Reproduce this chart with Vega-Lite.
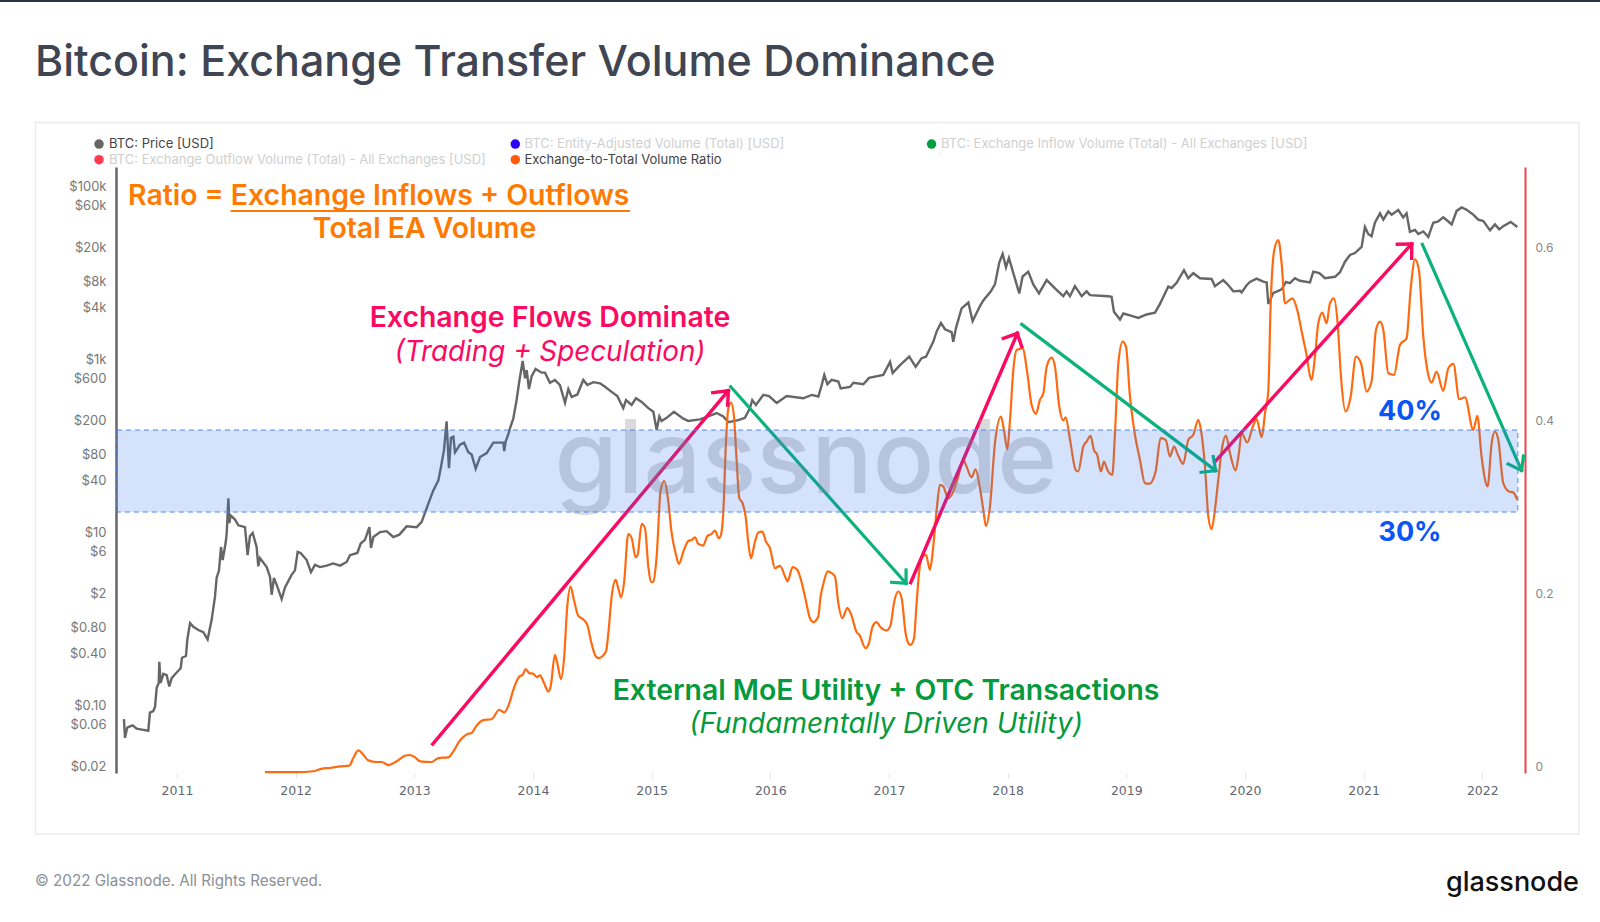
{
  "$schema": "https://vega.github.io/schema/vega-lite/v6.json",
  "width": 1409,
  "height": 606,
  "autosize": {"type": "none"},
  "padding": {"left": 116, "top": 167, "right": 75, "bottom": 149},
  "background": "white",
  "config": {"view": {"stroke": null}, "font": "Inter"},
  "datasets": {
    "price": [
      {"year":2010.553,"price":0.084},{"year":2010.562,"price":0.051},{"year":2010.581,"price":0.067},{"year":2010.604,"price":0.069},{"year":2010.626,"price":0.071},{"year":2010.66,"price":0.065},{"year":2010.716,"price":0.063},{"year":2010.758,"price":0.0615},{"year":2010.772,"price":0.1},{"year":2010.8,"price":0.104},{"year":2010.815,"price":0.116},{"year":2010.829,"price":0.193},{"year":2010.846,"price":0.22},{"year":2010.851,"price":0.385},{"year":2010.862,"price":0.22},{"year":2010.885,"price":0.28},{"year":2010.913,"price":0.27},{"year":2010.935,"price":0.2},{"year":2010.955,"price":0.25},{"year":2010.997,"price":0.29},{"year":2011.031,"price":0.325},{"year":2011.042,"price":0.43},{"year":2011.076,"price":0.45},{"year":2011.087,"price":0.7},{"year":2011.11,"price":1.08},{"year":2011.138,"price":0.98},{"year":2011.18,"price":0.9},{"year":2011.222,"price":0.85},{"year":2011.258,"price":0.7},{"year":2011.292,"price":1.18},{"year":2011.32,"price":2.17},{"year":2011.334,"price":3.6},{"year":2011.354,"price":4.4},{"year":2011.371,"price":8.2},{"year":2011.385,"price":5.8},{"year":2011.41,"price":9.1},{"year":2011.419,"price":11.9},{"year":2011.433,"price":30},{"year":2011.441,"price":15.5},{"year":2011.452,"price":19},{"year":2011.489,"price":17},{"year":2011.517,"price":14.6},{"year":2011.573,"price":13.9},{"year":2011.595,"price":6.6},{"year":2011.615,"price":11},{"year":2011.638,"price":11.9},{"year":2011.671,"price":8.2},{"year":2011.685,"price":4.9},{"year":2011.699,"price":6.1},{"year":2011.756,"price":4.8},{"year":2011.784,"price":3.7},{"year":2011.798,"price":2.3},{"year":2011.817,"price":3.6},{"year":2011.848,"price":2.8},{"year":2011.882,"price":2.05},{"year":2011.91,"price":2.8},{"year":2011.966,"price":3.9},{"year":2011.994,"price":4.4},{"year":2012.017,"price":7.2},{"year":2012.042,"price":7},{"year":2012.093,"price":5.8},{"year":2012.129,"price":4.2},{"year":2012.163,"price":5.1},{"year":2012.205,"price":4.8},{"year":2012.261,"price":5},{"year":2012.317,"price":5.3},{"year":2012.374,"price":5},{"year":2012.43,"price":5.5},{"year":2012.458,"price":6.6},{"year":2012.52,"price":7},{"year":2012.548,"price":9},{"year":2012.584,"price":9.9},{"year":2012.621,"price":13.9},{"year":2012.635,"price":8},{"year":2012.655,"price":10.7},{"year":2012.711,"price":12.2},{"year":2012.767,"price":12.5},{"year":2012.823,"price":10.7},{"year":2012.874,"price":11.4},{"year":2012.935,"price":14.2},{"year":2013.02,"price":13.9},{"year":2013.062,"price":16},{"year":2013.118,"price":26},{"year":2013.16,"price":37},{"year":2013.202,"price":48},{"year":2013.222,"price":66},{"year":2013.25,"price":108},{"year":2013.272,"price":233},{"year":2013.284,"price":108},{"year":2013.292,"price":67},{"year":2013.309,"price":150},{"year":2013.329,"price":154},{"year":2013.343,"price":102},{"year":2013.385,"price":125},{"year":2013.419,"price":132},{"year":2013.455,"price":102},{"year":2013.483,"price":96},{"year":2013.517,"price":66},{"year":2013.554,"price":90},{"year":2013.61,"price":100},{"year":2013.666,"price":132},{"year":2013.75,"price":132},{"year":2013.758,"price":105},{"year":2013.769,"price":135},{"year":2013.792,"price":165},{"year":2013.806,"price":193},{"year":2013.834,"price":250},{"year":2013.862,"price":410},{"year":2013.885,"price":680},{"year":2013.913,"price":1160},{"year":2013.933,"price":730},{"year":2013.947,"price":910},{"year":2013.966,"price":550},{"year":2013.989,"price":775},{"year":2014.022,"price":940},{"year":2014.073,"price":850},{"year":2014.101,"price":850},{"year":2014.143,"price":650},{"year":2014.185,"price":700},{"year":2014.227,"price":610},{"year":2014.27,"price":380},{"year":2014.298,"price":550},{"year":2014.326,"price":445},{"year":2014.374,"price":475},{"year":2014.424,"price":700},{"year":2014.458,"price":610},{"year":2014.508,"price":660},{"year":2014.565,"price":640},{"year":2014.607,"price":585},{"year":2014.663,"price":510},{"year":2014.711,"price":455},{"year":2014.761,"price":330},{"year":2014.784,"price":410},{"year":2014.831,"price":360},{"year":2014.868,"price":430},{"year":2014.916,"price":390},{"year":2014.972,"price":330},{"year":2015.014,"price":300},{"year":2015.042,"price":185},{"year":2015.065,"price":265},{"year":2015.084,"price":235},{"year":2015.126,"price":255},{"year":2015.188,"price":300},{"year":2015.267,"price":250},{"year":2015.309,"price":235},{"year":2015.407,"price":245},{"year":2015.477,"price":265},{"year":2015.548,"price":290},{"year":2015.604,"price":265},{"year":2015.646,"price":228},{"year":2015.73,"price":240},{"year":2015.786,"price":255},{"year":2015.828,"price":330},{"year":2015.848,"price":410},{"year":2015.879,"price":360},{"year":2015.941,"price":470},{"year":2015.989,"price":455},{"year":2016.054,"price":380},{"year":2016.138,"price":455},{"year":2016.278,"price":430},{"year":2016.349,"price":470},{"year":2016.405,"price":450},{"year":2016.433,"price":610},{"year":2016.455,"price":800},{"year":2016.481,"price":625},{"year":2016.517,"price":700},{"year":2016.573,"price":670},{"year":2016.593,"price":560},{"year":2016.671,"price":580},{"year":2016.7,"price":650},{"year":2016.784,"price":625},{"year":2016.832,"price":740},{"year":2016.952,"price":800},{"year":2017.009,"price":1130},{"year":2017.031,"price":840},{"year":2017.093,"price":1040},{"year":2017.171,"price":1300},{"year":2017.225,"price":990},{"year":2017.275,"price":1250},{"year":2017.312,"price":1300},{"year":2017.374,"price":1940},{"year":2017.402,"price":2550},{"year":2017.438,"price":3200},{"year":2017.472,"price":2700},{"year":2017.528,"price":2500},{"year":2017.542,"price":1930},{"year":2017.565,"price":2800},{"year":2017.612,"price":4700},{"year":2017.669,"price":5500},{"year":2017.705,"price":3350},{"year":2017.767,"price":5000},{"year":2017.795,"price":5800},{"year":2017.857,"price":7350},{"year":2017.893,"price":8900},{"year":2017.93,"price":16000},{"year":2017.958,"price":20000},{"year":2017.986,"price":14000},{"year":2018.011,"price":18000},{"year":2018.048,"price":12000},{"year":2018.098,"price":7000},{"year":2018.126,"price":11000},{"year":2018.174,"price":12500},{"year":2018.216,"price":8900},{"year":2018.264,"price":7000},{"year":2018.329,"price":10000},{"year":2018.399,"price":8000},{"year":2018.469,"price":6500},{"year":2018.497,"price":7400},{"year":2018.525,"price":6500},{"year":2018.567,"price":8500},{"year":2018.624,"price":6500},{"year":2018.666,"price":7400},{"year":2018.694,"price":6700},{"year":2018.848,"price":6500},{"year":2018.876,"price":6400},{"year":2018.896,"price":4300},{"year":2018.947,"price":3500},{"year":2018.975,"price":4100},{"year":2019.031,"price":3900},{"year":2019.101,"price":3650},{"year":2019.171,"price":4000},{"year":2019.242,"price":4200},{"year":2019.284,"price":5300},{"year":2019.354,"price":8400},{"year":2019.382,"price":8100},{"year":2019.424,"price":9300},{"year":2019.486,"price":13000},{"year":2019.522,"price":10500},{"year":2019.565,"price":12000},{"year":2019.621,"price":10500},{"year":2019.719,"price":10300},{"year":2019.747,"price":8500},{"year":2019.817,"price":10000},{"year":2019.86,"price":8700},{"year":2019.902,"price":7400},{"year":2019.958,"price":7500},{"year":2019.972,"price":7200},{"year":2020.014,"price":8700},{"year":2020.042,"price":9500},{"year":2020.098,"price":10400},{"year":2020.154,"price":9600},{"year":2020.183,"price":9400},{"year":2020.197,"price":5300},{"year":2020.239,"price":7100},{"year":2020.272,"price":7400},{"year":2020.309,"price":7800},{"year":2020.346,"price":9500},{"year":2020.379,"price":9200},{"year":2020.421,"price":10500},{"year":2020.463,"price":9800},{"year":2020.548,"price":9400},{"year":2020.576,"price":12500},{"year":2020.627,"price":12000},{"year":2020.674,"price":10500},{"year":2020.759,"price":10900},{"year":2020.801,"price":12300},{"year":2020.843,"price":16300},{"year":2020.885,"price":19500},{"year":2020.927,"price":20500},{"year":2020.983,"price":24200},{"year":2021.011,"price":41000},{"year":2021.039,"price":34000},{"year":2021.067,"price":32000},{"year":2021.095,"price":46000},{"year":2021.138,"price":59000},{"year":2021.166,"price":50000},{"year":2021.208,"price":62000},{"year":2021.236,"price":57000},{"year":2021.292,"price":64500},{"year":2021.334,"price":53000},{"year":2021.362,"price":59000},{"year":2021.39,"price":36000},{"year":2021.433,"price":38000},{"year":2021.461,"price":34000},{"year":2021.503,"price":36500},{"year":2021.545,"price":31500},{"year":2021.587,"price":46000},{"year":2021.629,"price":47500},{"year":2021.671,"price":53000},{"year":2021.714,"price":47500},{"year":2021.742,"price":44000},{"year":2021.784,"price":63000},{"year":2021.826,"price":69000},{"year":2021.868,"price":65000},{"year":2021.924,"price":57000},{"year":2021.966,"price":50000},{"year":2022.009,"price":48000},{"year":2022.065,"price":37500},{"year":2022.107,"price":44000},{"year":2022.143,"price":38500},{"year":2022.177,"price":42000},{"year":2022.239,"price":47000},{"year":2022.295,"price":41000}
    ],
    "ratio": [
      {"year":2011.742,"ratio":0.001},{"year":2012.008,"ratio":0.001},{"year":2012.149,"ratio":0.002},{"year":2012.233,"ratio":0.0054},{"year":2012.289,"ratio":0.0058},{"year":2012.374,"ratio":0.0077},{"year":2012.452,"ratio":0.0085},{"year":2012.486,"ratio":0.0173},{"year":2012.528,"ratio":0.0262},{"year":2012.57,"ratio":0.0212},{"year":2012.612,"ratio":0.0146},{"year":2012.683,"ratio":0.0127},{"year":2012.725,"ratio":0.0127},{"year":2012.781,"ratio":0.0092},{"year":2012.851,"ratio":0.0135},{"year":2012.921,"ratio":0.02},{"year":2012.963,"ratio":0.0208},{"year":2013.006,"ratio":0.0181},{"year":2013.048,"ratio":0.0135},{"year":2013.146,"ratio":0.0127},{"year":2013.202,"ratio":0.0173},{"year":2013.286,"ratio":0.0181},{"year":2013.329,"ratio":0.025},{"year":2013.379,"ratio":0.0366},{"year":2013.455,"ratio":0.0454},{"year":2013.483,"ratio":0.0462},{"year":2013.52,"ratio":0.0539},{"year":2013.576,"ratio":0.0608},{"year":2013.652,"ratio":0.0624},{"year":2013.716,"ratio":0.0731},{"year":2013.758,"ratio":0.07},{"year":2013.801,"ratio":0.0808},{"year":2013.834,"ratio":0.0962},{"year":2013.885,"ratio":0.1116},{"year":2013.913,"ratio":0.1136},{"year":2013.938,"ratio":0.1201},{"year":2013.969,"ratio":0.1155},{"year":2014.003,"ratio":0.1147},{"year":2014.031,"ratio":0.1109},{"year":2014.059,"ratio":0.1128},{"year":2014.093,"ratio":0.104},{"year":2014.129,"ratio":0.0943},{"year":2014.149,"ratio":0.1001},{"year":2014.185,"ratio":0.1367},{"year":2014.205,"ratio":0.1271},{"year":2014.236,"ratio":0.1086},{"year":2014.261,"ratio":0.1309},{"year":2014.289,"ratio":0.1925},{"year":2014.317,"ratio":0.2156},{"year":2014.345,"ratio":0.2002},{"year":2014.382,"ratio":0.1817},{"year":2014.41,"ratio":0.179},{"year":2014.458,"ratio":0.1713},{"year":2014.486,"ratio":0.154},{"year":2014.522,"ratio":0.1367},{"year":2014.551,"ratio":0.1327},{"year":2014.615,"ratio":0.1404},{"year":2014.635,"ratio":0.1616},{"year":2014.663,"ratio":0.204},{"year":2014.697,"ratio":0.2232},{"year":2014.719,"ratio":0.2136},{"year":2014.742,"ratio":0.2028},{"year":2014.767,"ratio":0.2194},{"year":2014.803,"ratio":0.2763},{"year":2014.832,"ratio":0.2713},{"year":2014.865,"ratio":0.2494},{"year":2014.882,"ratio":0.2521},{"year":2014.916,"ratio":0.2879},{"year":2014.944,"ratio":0.2829},{"year":2014.972,"ratio":0.2386},{"year":2014.995,"ratio":0.2205},{"year":2015.014,"ratio":0.2213},{"year":2015.042,"ratio":0.2502},{"year":2015.076,"ratio":0.3272},{"year":2015.107,"ratio":0.3375},{"year":2015.135,"ratio":0.3195},{"year":2015.169,"ratio":0.2771},{"year":2015.202,"ratio":0.254},{"year":2015.23,"ratio":0.2417},{"year":2015.267,"ratio":0.2559},{"year":2015.309,"ratio":0.2682},{"year":2015.337,"ratio":0.2694},{"year":2015.365,"ratio":0.2725},{"year":2015.393,"ratio":0.2648},{"year":2015.435,"ratio":0.2629},{"year":2015.469,"ratio":0.274},{"year":2015.506,"ratio":0.2763},{"year":2015.534,"ratio":0.2802},{"year":2015.565,"ratio":0.2713},{"year":2015.584,"ratio":0.2752},{"year":2015.604,"ratio":0.3021},{"year":2015.626,"ratio":0.3812},{"year":2015.646,"ratio":0.4216},{"year":2015.669,"ratio":0.4281},{"year":2015.694,"ratio":0.412},{"year":2015.716,"ratio":0.3619},{"year":2015.739,"ratio":0.3176},{"year":2015.767,"ratio":0.3118},{"year":2015.792,"ratio":0.2964},{"year":2015.815,"ratio":0.2657},{"year":2015.837,"ratio":0.2483},{"year":2015.871,"ratio":0.2676},{"year":2015.899,"ratio":0.278},{"year":2015.933,"ratio":0.2791},{"year":2015.963,"ratio":0.2676},{"year":2015.997,"ratio":0.2599},{"year":2016.039,"ratio":0.2368},{"year":2016.081,"ratio":0.2395},{"year":2016.124,"ratio":0.2272},{"year":2016.146,"ratio":0.2214},{"year":2016.188,"ratio":0.2379},{"year":2016.227,"ratio":0.2349},{"year":2016.25,"ratio":0.2272},{"year":2016.292,"ratio":0.2041},{"year":2016.334,"ratio":0.179},{"year":2016.362,"ratio":0.1744},{"year":2016.404,"ratio":0.1809},{"year":2016.424,"ratio":0.2041},{"year":2016.452,"ratio":0.2214},{"year":2016.483,"ratio":0.233},{"year":2016.517,"ratio":0.231},{"year":2016.545,"ratio":0.2272},{"year":2016.573,"ratio":0.1964},{"year":2016.607,"ratio":0.179},{"year":2016.649,"ratio":0.1906},{"year":2016.677,"ratio":0.1848},{"year":2016.727,"ratio":0.1629},{"year":2016.75,"ratio":0.1598},{"year":2016.803,"ratio":0.1444},{"year":2016.831,"ratio":0.1502},{"year":2016.862,"ratio":0.1694},{"year":2016.896,"ratio":0.1744},{"year":2016.924,"ratio":0.1694},{"year":2016.98,"ratio":0.1648},{"year":2017.014,"ratio":0.1713},{"year":2017.042,"ratio":0.1964},{"year":2017.079,"ratio":0.2098},{"year":2017.107,"ratio":0.2021},{"year":2017.14,"ratio":0.1617},{"year":2017.163,"ratio":0.1502},{"year":2017.183,"ratio":0.1482},{"year":2017.211,"ratio":0.1559},{"year":2017.233,"ratio":0.1964},{"year":2017.256,"ratio":0.2349},{"year":2017.284,"ratio":0.2503},{"year":2017.312,"ratio":0.2522},{"year":2017.345,"ratio":0.2349},{"year":2017.373,"ratio":0.2618},{"year":2017.402,"ratio":0.3042},{"year":2017.43,"ratio":0.333},{"year":2017.458,"ratio":0.3311},{"year":2017.5,"ratio":0.3176},{"year":2017.542,"ratio":0.3253},{"year":2017.584,"ratio":0.3427},{"year":2017.626,"ratio":0.3619},{"year":2017.654,"ratio":0.3542},{"year":2017.696,"ratio":0.3419},{"year":2017.73,"ratio":0.3511},{"year":2017.767,"ratio":0.3292},{"year":2017.795,"ratio":0.3042},{"year":2017.817,"ratio":0.2857},{"year":2017.851,"ratio":0.308},{"year":2017.893,"ratio":0.3812},{"year":2017.944,"ratio":0.412},{"year":2017.969,"ratio":0.3966},{"year":2017.997,"ratio":0.3742},{"year":2018.02,"ratio":0.4082},{"year":2018.048,"ratio":0.466},{"year":2018.076,"ratio":0.4891},{"year":2018.126,"ratio":0.491},{"year":2018.166,"ratio":0.4622},{"year":2018.202,"ratio":0.4256},{"year":2018.239,"ratio":0.4152},{"year":2018.272,"ratio":0.4313},{"year":2018.301,"ratio":0.439},{"year":2018.329,"ratio":0.4698},{"year":2018.371,"ratio":0.4802},{"year":2018.399,"ratio":0.4698},{"year":2018.435,"ratio":0.4237},{"year":2018.469,"ratio":0.4075},{"year":2018.489,"ratio":0.4113},{"year":2018.526,"ratio":0.3851},{"year":2018.573,"ratio":0.3505},{"year":2018.595,"ratio":0.3486},{"year":2018.638,"ratio":0.3775},{"year":2018.666,"ratio":0.3832},{"year":2018.699,"ratio":0.3898},{"year":2018.727,"ratio":0.3736},{"year":2018.755,"ratio":0.3678},{"year":2018.786,"ratio":0.3486},{"year":2018.812,"ratio":0.3601},{"year":2018.84,"ratio":0.3505},{"year":2018.882,"ratio":0.3447},{"year":2018.904,"ratio":0.391},{"year":2018.933,"ratio":0.4737},{"year":2018.969,"ratio":0.4987},{"year":2018.997,"ratio":0.4929},{"year":2019.031,"ratio":0.4352},{"year":2019.073,"ratio":0.391},{"year":2019.115,"ratio":0.3621},{"year":2019.157,"ratio":0.3351},{"year":2019.194,"ratio":0.3343},{"year":2019.247,"ratio":0.3486},{"year":2019.289,"ratio":0.3871},{"year":2019.332,"ratio":0.3851},{"year":2019.368,"ratio":0.3659},{"year":2019.402,"ratio":0.3774},{"year":2019.438,"ratio":0.3667},{"year":2019.48,"ratio":0.3574},{"year":2019.522,"ratio":0.3851},{"year":2019.565,"ratio":0.391},{"year":2019.607,"ratio":0.4083},{"year":2019.629,"ratio":0.3967},{"year":2019.663,"ratio":0.3543},{"year":2019.691,"ratio":0.2966},{"year":2019.719,"ratio":0.282},{"year":2019.747,"ratio":0.3043},{"year":2019.775,"ratio":0.3389},{"year":2019.809,"ratio":0.3774},{"year":2019.84,"ratio":0.3902},{"year":2019.874,"ratio":0.3697},{"year":2019.921,"ratio":0.3497},{"year":2019.949,"ratio":0.3697},{"year":2019.972,"ratio":0.3928},{"year":2020.02,"ratio":0.3821},{"year":2020.062,"ratio":0.3986},{"year":2020.098,"ratio":0.409},{"year":2020.141,"ratio":0.3882},{"year":2020.169,"ratio":0.4159},{"year":2020.197,"ratio":0.4429},{"year":2020.216,"ratio":0.5391},{"year":2020.247,"ratio":0.6046},{"year":2020.281,"ratio":0.6162},{"year":2020.309,"ratio":0.5892},{"year":2020.337,"ratio":0.543},{"year":2020.399,"ratio":0.5488},{"year":2020.441,"ratio":0.5353},{"year":2020.478,"ratio":0.5103},{"year":2020.511,"ratio":0.4891},{"year":2020.562,"ratio":0.4545},{"year":2020.59,"ratio":0.4814},{"year":2020.618,"ratio":0.5199},{"year":2020.652,"ratio":0.5322},{"year":2020.688,"ratio":0.5199},{"year":2020.716,"ratio":0.543},{"year":2020.75,"ratio":0.5488},{"year":2020.781,"ratio":0.5199},{"year":2020.809,"ratio":0.4583},{"year":2020.848,"ratio":0.4179},{"year":2020.891,"ratio":0.4352},{"year":2020.935,"ratio":0.4814},{"year":2020.978,"ratio":0.4737},{"year":2021.025,"ratio":0.441},{"year":2021.067,"ratio":0.4525},{"year":2021.104,"ratio":0.5122},{"year":2021.138,"ratio":0.5218},{"year":2021.166,"ratio":0.5122},{"year":2021.208,"ratio":0.4621},{"year":2021.256,"ratio":0.4602},{"year":2021.306,"ratio":0.4949},{"year":2021.362,"ratio":0.5026},{"year":2021.396,"ratio":0.5584},{"year":2021.433,"ratio":0.5938},{"year":2021.466,"ratio":0.5815},{"year":2021.503,"ratio":0.5045},{"year":2021.539,"ratio":0.4641},{"year":2021.573,"ratio":0.4514},{"year":2021.615,"ratio":0.4641},{"year":2021.671,"ratio":0.4417},{"year":2021.714,"ratio":0.4679},{"year":2021.756,"ratio":0.4729},{"year":2021.806,"ratio":0.4321},{"year":2021.854,"ratio":0.4344},{"year":2021.924,"ratio":0.3967},{"year":2021.958,"ratio":0.4129},{"year":2021.994,"ratio":0.3659},{"year":2022.045,"ratio":0.3312},{"year":2022.079,"ratio":0.3813},{"year":2022.107,"ratio":0.3948},{"year":2022.135,"ratio":0.3851},{"year":2022.177,"ratio":0.3351},{"year":2022.225,"ratio":0.3255},{"year":2022.261,"ratio":0.3243},{"year":2022.295,"ratio":0.3158}
    ]
  },
  "encoding": {
    "x": {
      "field": "year",
      "type": "quantitative",
      "scale": {"domain": [2010.486, 2022.36], "nice": false, "zero": false},
      "axis": {
        "title": null,
        "values": [2011,2012,2013,2014,2015,2016,2017,2018,2019,2020,2021,2022],
        "format": "d",
        "grid": false,
        "domain": false,
        "tickColor": "#e4e4e4",
        "tickSize": 5,
        "labelColor": "#5f6672",
        "labelFont": "DejaVu Sans",
        "labelFontSize": 12.5,
        "labelPadding": 6
      }
    }
  },
  "layer": [
    {
      "encoding": {
        "y": {
          "field": "price",
          "type": "quantitative",
          "scale": {"type": "log", "domain": [0.02, 202680], "nice": false},
          "axis": {
            "orient": "left",
            "title": null,
            "grid": false,
            "ticks": false,
            "domainColor": "#666666",
            "domainWidth": 2.5,
            "values": [100000,60000,20000,8000,4000,1000,600,200,80,40,10,6,2,0.8,0.4,0.1,0.06,0.02],
            "labelExpr": "datum.value >= 1000 ? '$' + datum.value / 1000 + 'k' : datum.value < 1 ? '$' + format(datum.value, '.2f') : '$' + datum.value",
            "labelOffset": -7,
            "labelPadding": 10,
            "labelColor": "#777777",
            "labelFont": "Inter",
            "labelFontSize": 13
          }
        }
      },
      "layer": [
        {
          "data": {"values": [
            {"price":0.02},{"price":0.04},{"price":0.06},{"price":0.08},{"price":0.1},{"price":0.2},{"price":0.4},{"price":0.6},{"price":0.8},{"price":1},{"price":2},{"price":4},{"price":6},{"price":8},{"price":10},{"price":20},{"price":40},{"price":60},{"price":80},{"price":100},{"price":200},{"price":400},{"price":600},{"price":800},{"price":1000},{"price":2000},{"price":4000},{"price":6000},{"price":8000},{"price":10000},{"price":20000},{"price":40000},{"price":60000},{"price":80000},{"price":100000},{"price":200000}
          ]},
          "mark": {"type": "rule", "color": "#f1f1f1", "strokeWidth": 1.6},
          "encoding": {"x": {"datum": 2010.545}, "x2": {"datum": 2022.301}}
        },
        {
          "data": {"name": "price"},
          "mark": {"type": "line", "color": "#666666", "strokeWidth": 2.4}
        }
      ]
    },
    {
      "encoding": {
        "y": {
          "field": "ratio",
          "type": "quantitative",
          "scale": {"domain": [0, 0.70058], "nice": false},
          "axis": {
            "orient": "right",
            "title": null,
            "grid": false,
            "ticks": false,
            "domainColor": "#f0414e",
            "domainWidth": 2,
            "values": [0, 0.2, 0.4, 0.6],
            "format": "~g",
            "labelOffset": -7,
            "labelPadding": 10,
            "labelColor": "#888888",
            "labelFont": "Inter",
            "labelFontSize": 12
          }
        }
      },
      "layer": [
        {
          "data": {"values": [{"year": 2009.809, "year2": 2022.815, "ratio": 0.752, "ratio2": -0.0705}]},
          "mark": {"type": "rect", "fillOpacity": 0, "stroke": "#ececec", "strokeWidth": 1.5},
          "encoding": {"x2": {"field": "year2"}, "y2": {"field": "ratio2"}}
        },
        {
          "data": {"values": [{"year": 2009.508, "year2": 2022.992, "ratio": 0.8925}]},
          "mark": {"type": "rule", "color": "#2f3540", "strokeWidth": 2},
          "encoding": {"x2": {"field": "year2"}}
        },
        {
          "data": {"name": "ratio"},
          "mark": {"type": "line", "color": "#ff6a10", "strokeWidth": 2.2, "interpolate": "monotone"}
        },
        {
          "data": {"values": [
            {"year":2013.155,"ratio":0.0335,"year2":2015.646,"ratio2":0.442},
            {"year":2015.515,"ratio":0.4397,"year2":2015.646,"ratio2":0.442},
            {"year":2015.641,"ratio":0.4254,"year2":2015.646,"ratio2":0.442},
            {"year":2017.183,"ratio":0.22,"year2":2018.082,"ratio2":0.5083},
            {"year":2017.964,"ratio":0.5025,"year2":2018.082,"ratio2":0.5083},
            {"year":2018.119,"ratio":0.4928,"year2":2018.082,"ratio2":0.5083},
            {"year":2019.748,"ratio":0.36,"year2":2021.405,"ratio2":0.6116},
            {"year":2021.284,"ratio":0.6112,"year2":2021.405,"ratio2":0.6116},
            {"year":2021.405,"ratio":0.595,"year2":2021.405,"ratio2":0.6116}
          ]},
          "mark": {"type": "rule", "color": "#fb0a62", "strokeWidth": 3.4, "strokeCap": "square"},
          "encoding": {"x2": {"field": "year2"}, "y2": {"field": "ratio2"}}
        },
        {
          "data": {"values": [
            {"year":2015.666,"ratio":0.4466,"year2":2017.144,"ratio2":0.2193},
            {"year":2017.023,"ratio":0.2205,"year2":2017.144,"ratio2":0.2193},
            {"year":2017.144,"ratio":0.2347,"year2":2017.144,"ratio2":0.2193},
            {"year":2018.119,"ratio":0.5187,"year2":2019.753,"ratio2":0.3495},
            {"year":2019.63,"ratio":0.3476,"year2":2019.753,"ratio2":0.3495},
            {"year":2019.733,"ratio":0.3657,"year2":2019.753,"ratio2":0.3495},
            {"year":2021.495,"ratio":0.6112,"year2":2022.331,"ratio2":0.3498},
            {"year":2022.217,"ratio":0.3572,"year2":2022.331,"ratio2":0.3498},
            {"year":2022.347,"ratio":0.3665,"year2":2022.331,"ratio2":0.3498}
          ]},
          "mark": {"type": "rule", "color": "#0bb37b", "strokeWidth": 3.2, "strokeCap": "square"},
          "encoding": {"x2": {"field": "year2"}, "y2": {"field": "ratio2"}}
        },
        {
          "data": {"values": [{"year": 2016.3, "ratio": 0.3237, "label": "glassnode"}]},
          "mark": {"type": "text", "font": "Inter", "fontSize": 102, "fontWeight": 500, "align": "center", "baseline": "alphabetic", "color": "#8d8d8d", "opacity": 0.32},
          "encoding": {"text": {"field": "label"}}
        },
        {
          "data": {"values": [{"year": 2010.494, "year2": 2022.3, "ratio": 0.3965, "ratio2": 0.3017}]},
          "mark": {"type": "rect", "fill": "#2a6ff0", "fillOpacity": 0.2, "stroke": "#4d86f7", "strokeWidth": 1, "strokeDash": [5, 4]},
          "encoding": {"x2": {"field": "year2"}, "y2": {"field": "ratio2"}}
        },
        {
          "data": {"values": [{"year": 2011.452, "year2": 2014.817, "ratio": 0.6497}]},
          "mark": {"type": "rule", "color": "#ff7a00", "strokeWidth": 2},
          "encoding": {"x2": {"field": "year2"}}
        },
        {
          "data": {"values": [
            {"year": 2012.70, "ratio": 0.6566, "label": "Ratio = Exchange Inflows + Outflows"},
            {"year": 2013.086, "ratio": 0.6183, "label": "Total EA Volume"}
          ]},
          "mark": {"type": "text", "font": "Inter", "fontSize": 28.4, "fontWeight": 600, "align": "center", "baseline": "alphabetic", "color": "#ff7a00"},
          "encoding": {"text": {"field": "label"}}
        },
        {
          "data": {"values": [{"year": 2014.143, "ratio": 0.5157, "label": "Exchange Flows Dominate"}]},
          "mark": {"type": "text", "font": "Inter", "fontSize": 28.4, "fontWeight": 600, "align": "center", "baseline": "alphabetic", "color": "#fb0a62"},
          "encoding": {"text": {"field": "label"}}
        },
        {
          "data": {"values": [{"year": 2014.143, "ratio": 0.4761, "label": "(Trading + Speculation)"}]},
          "mark": {"type": "text", "font": "Inter", "fontSize": 27.8, "fontStyle": "italic", "align": "center", "baseline": "alphabetic", "color": "#fb0a62"},
          "encoding": {"text": {"field": "label"}}
        },
        {
          "data": {"values": [{"year": 2016.975, "ratio": 0.0842, "label": "External MoE Utility + OTC Transactions"}]},
          "mark": {"type": "text", "font": "Inter", "fontSize": 28.4, "fontWeight": 600, "align": "center", "baseline": "alphabetic", "color": "#069a3c"},
          "encoding": {"text": {"field": "label"}}
        },
        {
          "data": {"values": [{"year": 2016.975, "ratio": 0.0459, "label": "(Fundamentally Driven Utility)"}]},
          "mark": {"type": "text", "font": "Inter", "fontSize": 28, "fontStyle": "italic", "align": "center", "baseline": "alphabetic", "color": "#069a3c"},
          "encoding": {"text": {"field": "label"}}
        },
        {
          "data": {"values": [
            {"year": 2021.391, "ratio": 0.4076, "label": "40%"},
            {"year": 2021.391, "ratio": 0.2682, "label": "30%"}
          ]},
          "mark": {"type": "text", "font": "Inter", "fontSize": 27, "fontWeight": 700, "align": "center", "baseline": "alphabetic", "color": "#0a55f5"},
          "encoding": {"text": {"field": "label"}}
        },
        {
          "data": {"values": [
            {"year": 2010.343, "ratio": 0.7271, "series": "BTC: Price [USD]"},
            {"year": 2013.851, "ratio": 0.7271, "series": "BTC: Entity-Adjusted Volume (Total) [USD]"},
            {"year": 2017.359, "ratio": 0.7271, "series": "BTC: Exchange Inflow Volume (Total) - All Exchanges [USD]"},
            {"year": 2010.343, "ratio": 0.709, "series": "BTC: Exchange Outflow Volume (Total) - All Exchanges [USD]"},
            {"year": 2013.851, "ratio": 0.709, "series": "Exchange-to-Total Volume Ratio"}
          ]},
          "mark": {"type": "point", "filled": true, "size": 90, "opacity": 1},
          "encoding": {
            "color": {
              "field": "series",
              "type": "nominal",
              "legend": null,
              "scale": {
                "domain": ["BTC: Price [USD]", "BTC: Entity-Adjusted Volume (Total) [USD]", "BTC: Exchange Inflow Volume (Total) - All Exchanges [USD]", "BTC: Exchange Outflow Volume (Total) - All Exchanges [USD]", "Exchange-to-Total Volume Ratio"],
                "range": ["#666666", "#2a00ff", "#00a040", "#ff3b50", "#ff5a0a"]
              }
            }
          }
        },
        {
          "data": {"values": [
            {"year": 2010.427, "ratio": 0.7271, "label": "BTC: Price [USD]"},
            {"year": 2013.928, "ratio": 0.709, "label": "Exchange-to-Total Volume Ratio"}
          ]},
          "mark": {"type": "text", "font": "Inter", "fontSize": 13, "align": "left", "baseline": "middle", "color": "#444444"},
          "encoding": {"text": {"field": "label"}}
        },
        {
          "data": {"values": [
            {"year": 2013.928, "ratio": 0.7271, "label": "BTC: Entity-Adjusted Volume (Total) [USD]"},
            {"year": 2017.438, "ratio": 0.7271, "label": "BTC: Exchange Inflow Volume (Total) - All Exchanges [USD]"},
            {"year": 2010.427, "ratio": 0.709, "label": "BTC: Exchange Outflow Volume (Total) - All Exchanges [USD]"}
          ]},
          "mark": {"type": "text", "font": "Inter", "fontSize": 13, "align": "left", "baseline": "middle", "color": "#d0d0d0"},
          "encoding": {"text": {"field": "label"}}
        },
        {
          "data": {"values": [{"year": 2009.803, "ratio": 0.806, "label": "Bitcoin: Exchange Transfer Volume Dominance"}]},
          "mark": {"type": "text", "font": "Inter", "fontSize": 43, "fontWeight": 500, "align": "left", "baseline": "alphabetic", "color": "#3f4552"},
          "encoding": {"text": {"field": "label"}}
        },
        {
          "data": {"values": [{"year": 2009.803, "ratio": -0.1306, "label": "© 2022 Glassnode. All Rights Reserved."}]},
          "mark": {"type": "text", "font": "Inter", "fontSize": 15.2, "align": "left", "baseline": "alphabetic", "color": "#8a8f98"},
          "encoding": {"text": {"field": "label"}}
        },
        {
          "data": {"values": [{"year": 2022.815, "ratio": -0.1362, "label": "glassnode"}]},
          "mark": {"type": "text", "font": "Inter", "fontSize": 27, "fontWeight": 500, "align": "right", "baseline": "alphabetic", "color": "#111111"},
          "encoding": {"text": {"field": "label"}}
        }
      ]
    }
  ],
  "resolve": {"scale": {"y": "independent"}}
}
